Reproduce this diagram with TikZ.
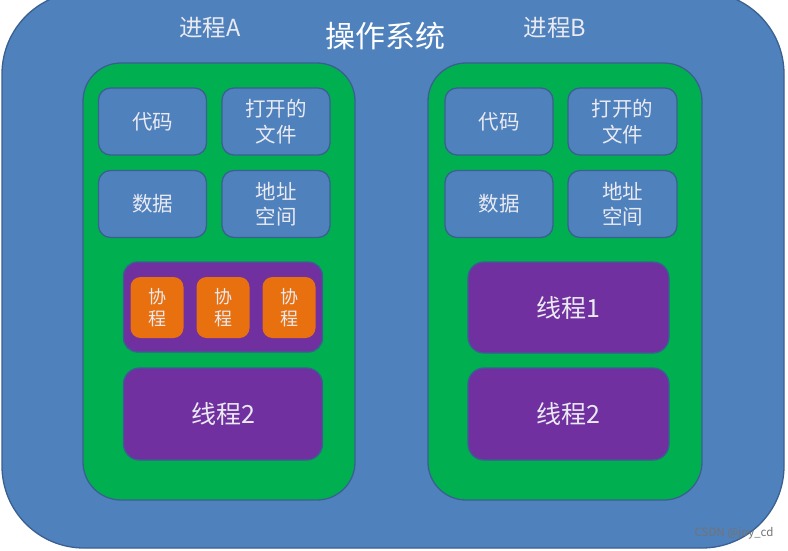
\documentclass[tikz,border=0pt]{standalone}
\usepackage{fontspec}
\setmainfont{Noto Sans CJK SC}
\definecolor{osblue}{HTML}{4F81BD}
\definecolor{edgeblue}{HTML}{3A6090}
\definecolor{gr}{HTML}{00B050}
\definecolor{pu}{HTML}{7030A0}
\definecolor{orng}{HTML}{E8700E}
\definecolor{txt}{HTML}{EAEAF2}
\begin{document}
\begin{tikzpicture}[x=1pt,y=-1pt,
  shp/.style={draw=edgeblue, line width=1.3pt, inner sep=0pt, align=center, text=txt},
  greenbox/.style={shp, fill=gr, rounded corners=38pt, minimum width=272pt, minimum height=437pt},
  itembox/.style={shp, fill=osblue, rounded corners=12pt, minimum width=108pt, minimum height=67pt, font=\fontsize{20.5}{25.5}\selectfont},
  threadbox/.style={shp, fill=pu, rounded corners=16pt, minimum width=199pt, minimum height=92pt, font=\fontsize{25}{29}\selectfont},
  cobox/.style={shp, draw=none, fill=orng, rounded corners=10pt, minimum width=53pt, minimum height=61pt, font=\fontsize{18}{22}\selectfont},
  proclabel/.style={text=txt, font=\fontsize{23.5}{27}\selectfont, inner sep=0pt}]
\useasboundingbox (0,0) rectangle (788,550);
\fill[white] (0,0) rectangle (788,550);
\path[draw=edgeblue, line width=1.3pt, fill=osblue, rounded corners=82pt] (2,-8) rectangle (784,548);
\node[text=white, font=\fontsize{30}{34}\selectfont, inner sep=0pt] (os) at (385,36) {操作系统};
\node[proclabel] (pa) at (210,28) {进程A};
\node[proclabel] (pb) at (555,28) {进程B};
% process A
\node[greenbox] (ga) at (219,281.5) {};
\node[itembox] (a1) at (152.5,121.5) {代码};
\node[itembox] (a2) at (276,121.5) {打开的\\文件};
\node[itembox] (a3) at (152.5,204) {数据};
\node[itembox] (a4) at (276,204) {地址\\空间};
\node[shp, fill=pu, rounded corners=14pt, minimum width=199pt, minimum height=90pt] (co) at (223,307) {};
\node[cobox] (c1) at (157,307.5) {协\\程};
\node[cobox] (c2) at (223,307.5) {协\\程};
\node[cobox] (c3) at (289,307.5) {协\\程};
\node[threadbox] (ta2) at (223,414) {线程2};
% process B
\node[greenbox, minimum width=274pt] (gb) at (565,281.5) {};
\node[itembox] (b1) at (499,121.5) {代码};
\node[itembox, minimum width=109pt] (b2) at (622.5,121.5) {打开的\\文件};
\node[itembox] (b3) at (499,204) {数据};
\node[itembox, minimum width=109pt] (b4) at (622.5,204) {地址\\空间};
\node[threadbox, minimum width=201pt, minimum height=91pt] (tb1) at (568.5,307.5) {线程1};
\node[threadbox, minimum width=201pt] (tb2) at (568.5,414) {线程2};
\node[text=black!55, font=\fontsize{11.5}{13}\selectfont, inner sep=0pt] (wm) at (734,533) {CSDN @joy\_cd};
\end{tikzpicture}
\end{document}
